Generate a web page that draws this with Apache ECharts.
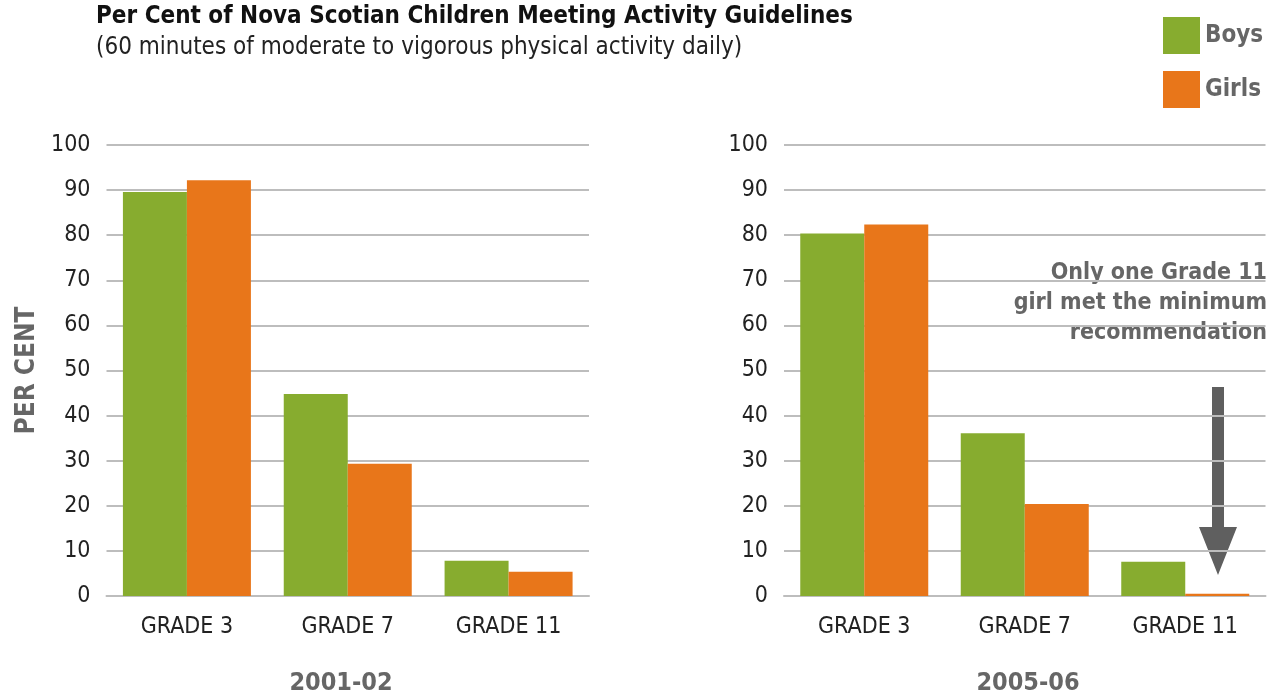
<!DOCTYPE html>
<html lang="en">
<head>
  <meta charset="UTF-8">
  <title>Per Cent of Nova Scotian Children Meeting Activity Guidelines</title>
  <script src="https://cdn.jsdelivr.net/npm/echarts@6/dist/echarts.min.js"></script>
  <style>
    html, body {
      margin: 0;
      padding: 0;
      width: 100%;
      height: 100%;
      background: #fff;
    }
    #main {
      width: 1278px;
      height: 696px;
    }
  </style>
</head>
<body>
  <div id="main"></div>
  <script>
    const FONT = "'Liberation Sans Narrow', 'DejaVu Sans Condensed', 'Roboto', sans-serif";

    const grades = ['GRADE 3', 'GRADE 7', 'GRADE 11'];
    const periods = ['2001-02', '2005-06'];
    const boys0102 = [89.6, 44.8, 7.8];
    const girls0102 = [92.2, 29.3, 5.4];
    const boys0506 = [80.4, 36.1, 7.6];
    const girls0506 = [82.4, 20.4, 0.5];
    const yTicks = { min: 0, max: 100, interval: 10 };

    const GREEN = '#87ac2f';
    const ORANGE = '#e8761a';
    const GRID_LINE = '#bdbdbd';

    const chart = echarts.init(document.getElementById('main'));

    function xAxisFor(i) {
      return {
        type: 'category',
        gridIndex: i,
        data: grades,
        axisTick: { show: false },
        axisLine: { show: true, lineStyle: { color: GRID_LINE, width: 2 } },
        axisLabel: { fontFamily: FONT, fontSize: 23, color: '#222', margin: 20 }
      };
    }

    function yAxisFor(i) {
      return {
        type: 'value',
        gridIndex: i,
        min: yTicks.min,
        max: yTicks.max,
        interval: yTicks.interval,
        axisLine: { show: false },
        axisTick: { show: false },
        splitLine: { lineStyle: { color: GRID_LINE, width: 2 } },
        axisLabel: { fontFamily: FONT, fontSize: 23, color: '#222', margin: 16 }
      };
    }

    function barSeries(name, data, i, color) {
      return {
        name: name,
        type: 'bar',
        xAxisIndex: i,
        yAxisIndex: i,
        data: data,
        barWidth: 64,
        barGap: '0%',
        itemStyle: { color: color },
        silent: true
      };
    }

    const leftY = yAxisFor(0);
    leftY.name = 'PER CENT';
    leftY.nameLocation = 'middle';
    leftY.nameRotate = 90;
    leftY.nameGap = 66;
    leftY.nameTextStyle = { fontFamily: FONT, fontSize: 26, fontWeight: 'bold', color: '#666' };

    const option = {
      animation: false,
      title: {
        text: 'Per Cent of Nova Scotian Children Meeting Activity Guidelines',
        subtext: '(60 minutes of moderate to vigorous physical activity daily)',
        left: 91,
        top: 0,
        itemGap: 7,
        textStyle: { fontFamily: FONT, fontSize: 24, fontWeight: 'bold', color: '#111' },
        subtextStyle: { fontFamily: FONT, fontSize: 24, color: '#222' }
      },
      legend: {
        orient: 'vertical',
        left: 1158,
        top: 12,
        itemWidth: 37,
        itemHeight: 37,
        itemGap: 17,
        icon: 'rect',
        data: ['Boys', 'Girls'],
        textStyle: { fontFamily: FONT, fontSize: 24, fontWeight: 'bold', color: '#666' }
      },
      grid: [
        { left: 106.5, width: 482.5, top: 145, height: 451 },
        { left: 784, width: 481.5, top: 145, height: 451 }
      ],
      xAxis: [xAxisFor(0), xAxisFor(1)],
      yAxis: [leftY, yAxisFor(1)],
      series: [
        barSeries('Boys', boys0102, 0, GREEN),
        barSeries('Girls', girls0102, 0, ORANGE),
        barSeries('Boys', boys0506, 1, GREEN),
        barSeries('Girls', girls0506, 1, ORANGE)
      ],
      graphic: [
        {
          type: 'text', x: 341, y: 671,
          style: { text: periods[0], font: 'bold 25px ' + FONT, fill: '#666', align: 'center', textAlign: 'center' }
        },
        {
          type: 'text', x: 1028, y: 671,
          style: { text: periods[1], font: 'bold 25px ' + FONT, fill: '#666', align: 'center', textAlign: 'center' }
        },
        {
          type: 'text', x: 1267, y: 258,
          style: {
            text: 'Only one Grade 11\ngirl met the minimum\nrecommendation',
            font: 'bold 23px ' + FONT, fill: '#666', align: 'right', textAlign: 'right', lineHeight: 30
          }
        },
        {
          type: 'polygon',
          shape: {
            points: [[1212, 387], [1224, 387], [1224, 527], [1237, 527], [1218, 575], [1199, 527], [1212, 527]]
          },
          style: { fill: '#5f5f5f' }
        }
      ]
    };

    chart.setOption(option);
  </script>
</body>
</html>
